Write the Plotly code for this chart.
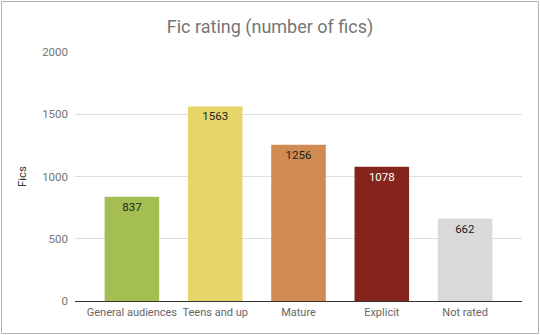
import plotly.graph_objects as go

categories = ["General audiences", "Teens and up", "Mature", "Explicit", "Not rated"]
values = [837, 1563, 1256, 1078, 662]
colors = ["#a5be52", "#e6d66a", "#cf8b52", "#84241c", "#d9d9d9"]
label_colors = ["#222222", "#222222", "#222222", "#ffffff", "#222222"]
y_ticks = [0, 500, 1000, 1500, 2000]

W, H = 540, 335
L, R, T, B = 75, 18, 52, 34
pw, ph = W - L - R, H - T - B

fig = go.Figure(go.Bar(
    x=list(range(len(categories))), y=values,
    marker=dict(color=colors, line=dict(width=0)),
    text=[str(v) for v in values], textposition="inside", insidetextanchor="end",
    insidetextfont=dict(family="Roboto", size=11.5, color=label_colors),
    constraintext="none",
))

def px_x(p):
    return (p - L) / pw

def px_y(p):
    return (H - B - p) / ph

fig.add_shape(type="rect", xref="paper", yref="paper",
              x0=px_x(1.5), x1=px_x(538.5), y0=px_y(333.5), y1=px_y(1.5),
              line=dict(color="#b3b3b3", width=1), fillcolor="rgba(0,0,0,0)", layer="below")

fig.update_layout(
    width=W, height=H,
    margin=dict(l=L, r=R, t=T, b=B, autoexpand=False),
    paper_bgcolor="white", plot_bgcolor="white",
    bargap=0.345,
    showlegend=False,
    title=dict(text="Fic rating (number of fics)", x=0.5, xref="container", xanchor="center",
               y=1 - 26.5 / H, yanchor="middle", automargin=False,
               font=dict(family="Roboto", size=18, color="#757575")),
    xaxis=dict(tickmode="array", tickvals=list(range(len(categories))), ticktext=categories,
               range=[-0.683, len(categories) - 1 + 0.683], tickangle=0, automargin=False,
               showgrid=False, zeroline=False, showline=False, ticks="", ticklabelstandoff=3,
               tickfont=dict(family="Roboto", size=11, color="#666666"),
               fixedrange=True),
    yaxis=dict(range=[0, 2000], tickvals=y_ticks, ticktext=[str(t) for t in y_ticks],
               showgrid=True, gridcolor="#dedede", gridwidth=1, automargin=False,
               zeroline=True, zerolinecolor="#333333", zerolinewidth=1,
               showline=False, ticks="", ticklabelstandoff=6,
               tickfont=dict(family="Roboto", size=11.5, color="#757575"),
               title=dict(text="Fics", standoff=13, font=dict(family="Roboto", size=11.5, color="#333333"))),
    font=dict(family="Roboto"),
)

fig.write_html("out.html")
